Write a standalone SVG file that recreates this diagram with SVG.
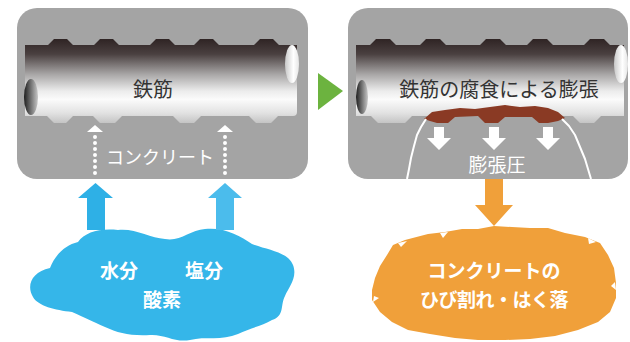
<svg xmlns="http://www.w3.org/2000/svg" width="630" height="342" viewBox="0 0 630 342">
  <style>
    .box { fill: #a4a4a4; }
    .label { font-family: "Noto Sans CJK JP", "Noto Sans", sans-serif; text-anchor: middle; }
    .dark { fill: #333333; font-size: 20px; }
    .light { fill: #ffffff; }
    .bold { font-weight: 700; }
    .dots { stroke: #ffffff; stroke-width: 4; stroke-linecap: round; stroke-dasharray: 0 6; fill: none; }
    .crack { stroke: #ffffff; stroke-width: 2; fill: none; stroke-linejoin: round; }
  </style>
  <defs>
    <!-- vertical shading of the steel bar -->
    <linearGradient id="steel" gradientUnits="userSpaceOnUse" x1="0" y1="39" x2="0" y2="123">
      <stop offset="0" stop-color="#2f2424"/>
      <stop offset="0.18" stop-color="#4a4040"/>
      <stop offset="0.42" stop-color="#a8a6a6"/>
      <stop offset="0.62" stop-color="#ececec"/>
      <stop offset="0.72" stop-color="#fbfbfb"/>
      <stop offset="0.88" stop-color="#e2e2e2"/>
      <stop offset="1" stop-color="#c4c4c4"/>
    </linearGradient>
    <linearGradient id="endDark" x1="0" y1="0" x2="1" y2="0">
      <stop offset="0" stop-color="#1e1e1e"/>
      <stop offset="1" stop-color="#c8c8c8"/>
    </linearGradient>
    <linearGradient id="endLight" x1="0" y1="0" x2="1" y2="0">
      <stop offset="0" stop-color="#c9c9c9"/>
      <stop offset="0.6" stop-color="#ffffff"/>
      <stop offset="1" stop-color="#e6e6e6"/>
    </linearGradient>
    <!-- small white pressure arrow pointing down -->
    <path id="downArrow" d="M-5,0 L5,0 L5,11 L12,11 L0,23 L-12,11 L-5,11 Z" fill="#ffffff"/>
  </defs>

  <!-- left panel: sound concrete -->
  <g id="panel-sound">
    <rect class="box" x="17" y="8" width="291" height="171" rx="20"/>
    <g id="rebar-left">
      <path fill="url(#steel)" d="M25,45 L48,45 L54,39 L67,39 L73,45 L94,45 L100,39 L113,39 L119,45 L150,45 L156,39 L169,39 L175,45 L194,45 L200,39 L213,39 L219,45 L254,45 L260,39 L273,39 L279,45 L297,45 L297,112 Q297,116 293,116 L278,116 L271,123 L256,123 L249,116 L201,116 L194,123 L180,123 L173,116 L122,116 L115,123 L100,123 L93,116 L73,116 L66,123 L54,123 L47,116 L25,116 Z"/>
      <ellipse cx="31" cy="97" rx="7" ry="18" fill="url(#endDark)"/>
      <ellipse cx="292" cy="64" rx="7" ry="19" fill="url(#endLight)"/>
    </g>
    <text class="label dark" x="153" y="97">鉄筋</text>
    <text class="label light" x="160" y="164" font-size="18">コンクリート</text>
  </g>

  <!-- right panel: corroded bar -->
  <g id="panel-corroded">
    <rect class="box" x="348" y="8" width="280" height="171" rx="20"/>
    <g id="rebar-right">
      <path fill="url(#steel)" d="M356,45 L370,45 L376,39 L390,39 L396,45 L420,45 L426,39 L440,39 L446,45 L480,45 L486,39 L500,39 L506,45 L527,45 L533,39 L547,39 L553,45 L584,45 L590,39 L604,39 L610,45 L624,45 L624,116 L601,116 L594,123 L580,123 L573,116 L412,116 L405,123 L378,123 L371,116 L356,116 Z"/>
      <ellipse cx="362" cy="97" rx="6" ry="17" fill="url(#endDark)"/>
      <ellipse cx="621" cy="64" rx="7" ry="19" fill="url(#endLight)"/>
    </g>
    <!-- rust layer -->
    <path fill="#8a3a24" d="M424,119 L432,112 L445,110 L460,108 L475,109 L490,107 L505,105 L520,107 L535,106 L548,108 L558,112 L565,118 L558,121 L548,123 L539,123 L532,117 L505,117 L498,123 L485,123 L478,116 L455,117 L448,123 L437,123 L430,121 Z"/>
    <!-- crack outline of the pushed-out cover -->
    <path class="crack" d="M426,119 L421,127 L417,135 L414,146 L411,158 L409,169 L407,179"/>
    <path class="crack" d="M562,119 L569,126 L575,135 L580,147 L585,159 L588,169 L591,179"/>
    <use href="#downArrow" x="439" y="127"/>
    <use href="#downArrow" x="494" y="127"/>
    <use href="#downArrow" x="548" y="127"/>
    <text class="label dark" x="499" y="97" font-size="21">鉄筋の腐食による膨張</text>
    <text class="label light" x="497" y="172" font-size="19">膨張圧</text>
  </g>

  <!-- sources: water, chloride, oxygen -->
  <g id="cloud-sources">
    <path fill="#35b6e9" d="M33,297 C26,285 32,272 50,268 C55,255 65,245 78,242 C85,232 100,228 118,230 C135,228 150,238 165,239 C180,242 190,230 205,229 C225,227 240,236 252,244 C268,250 288,252 293,265 C298,278 288,288 285,296 C280,305 285,316 272,320 C262,326 250,328 238,334 C222,341 205,336 190,340 C175,343 165,334 150,335 C130,336 118,333 105,327 C92,321 85,318 72,312 C55,310 38,306 33,297 Z"/>
    <text class="label light bold" x="119" y="278" font-size="19">水分</text>
    <text class="label light bold" x="204" y="278" font-size="19">塩分</text>
    <text class="label light bold" x="162" y="307" font-size="19">酸素</text>
  </g>

  <!-- result: cracking and spalling -->
  <g id="result-spalling">
    <path fill="#f0a03a" d="M393,245 L405,240 L428,234 L445,232 L462,229 L478,229 L494,226 L512,227 L530,228 L548,228 L565,233 L585,237 L600,243 L608,255 L614,268 L616,283 L616,298 L610,312 L598,322 L578,330 L555,336 L530,339 L505,340 L478,340 L455,338 L430,334 L408,330 L392,322 L380,312 L372,300 L372,290 L375,278 L380,266 L387,255 Z"/>
    <g fill="#ffffff">
      <path d="M398,243 L407,241 L401,247 Z"/>
      <path d="M440,233 L448,232 L443,238 Z"/>
      <path d="M588,238 L596,242 L589,244 Z"/>
      <path d="M615,282 L616,290 L611,286 Z"/>
      <path d="M374,296 L379,298 L373,302 Z"/>
    </g>
    <text class="label light bold" x="494" y="278" font-size="19">コンクリートの</text>
    <text class="label light bold" x="494" y="307" font-size="19" letter-spacing="-0.5">ひび割れ・はく落</text>
  </g>

  <!-- connectors -->
  <g id="connectors">
    <!-- ingress paths through the cover -->
    <path fill="#ffffff" d="M87,132 L95,125 L103,132 Z"/>
    <line class="dots" x1="95" y1="137" x2="95" y2="174"/>
    <path fill="#ffffff" d="M217,132 L225,125 L233,132 Z"/>
    <line class="dots" x1="225" y1="137" x2="225" y2="174"/>
    <!-- supply arrows from the sources -->
    <path fill="#2eb0e6" d="M87,230 L87,198 L78,198 L95.5,183 L113,198 L105,198 L105,230 Z"/>
    <path fill="#4bbcec" d="M216,230 L216,198 L208,198 L225,183 L242,198 L234,198 L234,230 Z"/>
    <!-- stage transition -->
    <path fill="#6cb33f" d="M318,73 L343,91 L318,110 Z"/>
    <!-- expansion leads to damage -->
    <path fill="#f0a03a" d="M485,179 L485,205 L475,205 L494,226 L513,205 L503,205 L503,179 Z"/>
  </g>
</svg>
